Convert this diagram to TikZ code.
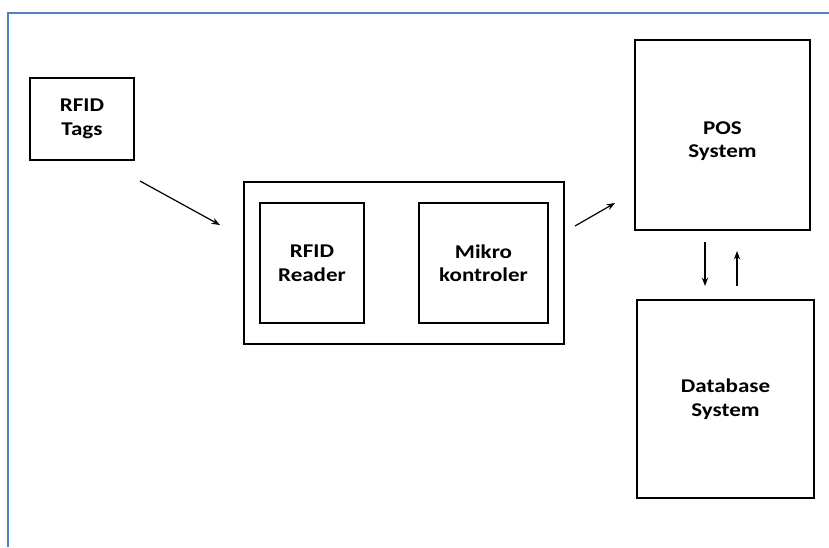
\documentclass[tikz,border=0pt]{standalone}
\usepackage{fontspec}
\setmainfont{Carlito}[FakeStretch=1.18]
\usetikzlibrary{arrows.meta, positioning}

\definecolor{frameblue}{RGB}{79,129,189}

\begin{document}
\begin{tikzpicture}[
    x=1pt, y=-1pt,
    >=Stealth,
    font=\fontsize{19.5}{23.5}\selectfont\bfseries,
    block/.style={draw, line width=2.2pt, align=center, inner sep=0pt},
    link/.style={->, line width=1.2pt},
]

\useasboundingbox (0,0) rectangle (829,547);

% ---- page frame (top and left edge only) ----
\draw[frameblue, line width=2pt] (8,547) -- (8,13) -- (829,13);

% ---- blocks ----
\node[block, minimum width=104, minimum height=82]  (tags)   at (82,119)    {RFID\\Tags};
\node[block, minimum width=320, minimum height=162] (unit)   at (404,263)   {};
\node[block, minimum width=104, minimum height=120] (reader) at (312,263)   {RFID\\Reader};
\node[block, minimum width=129, minimum height=120] (mcu)    at (483.5,263) {Mikro\\kontroler};
\node[block, minimum width=175, minimum height=190] (pos)    at (722.5,135) {};
\node[block, minimum width=177, minimum height=198] (db)     at (725.5,399) {Database\\System};
\node[align=center] (poslabel) at (722.5,141) {POS\\System};

% ---- arrow ends (arrows float between the blocks) ----
\coordinate (tagsout) at (140,181);
\coordinate (unitin)  at (220,225);
\coordinate (unitout) at (575,226);
\coordinate (posin)   at (615,203);
\coordinate (posdown) at (705,242);
\coordinate (dbin)    at (705,286);
\coordinate (dbup)    at (737,286);
\coordinate (posup)   at (737,251);

% ---- connectors ----
\draw[link] (tagsout) -- (unitin);
\draw[link] (unitout) -- (posin);
\draw[link] (posdown) -- (dbin);
\draw[link] (dbup) -- (posup);

\end{tikzpicture}
\end{document}
